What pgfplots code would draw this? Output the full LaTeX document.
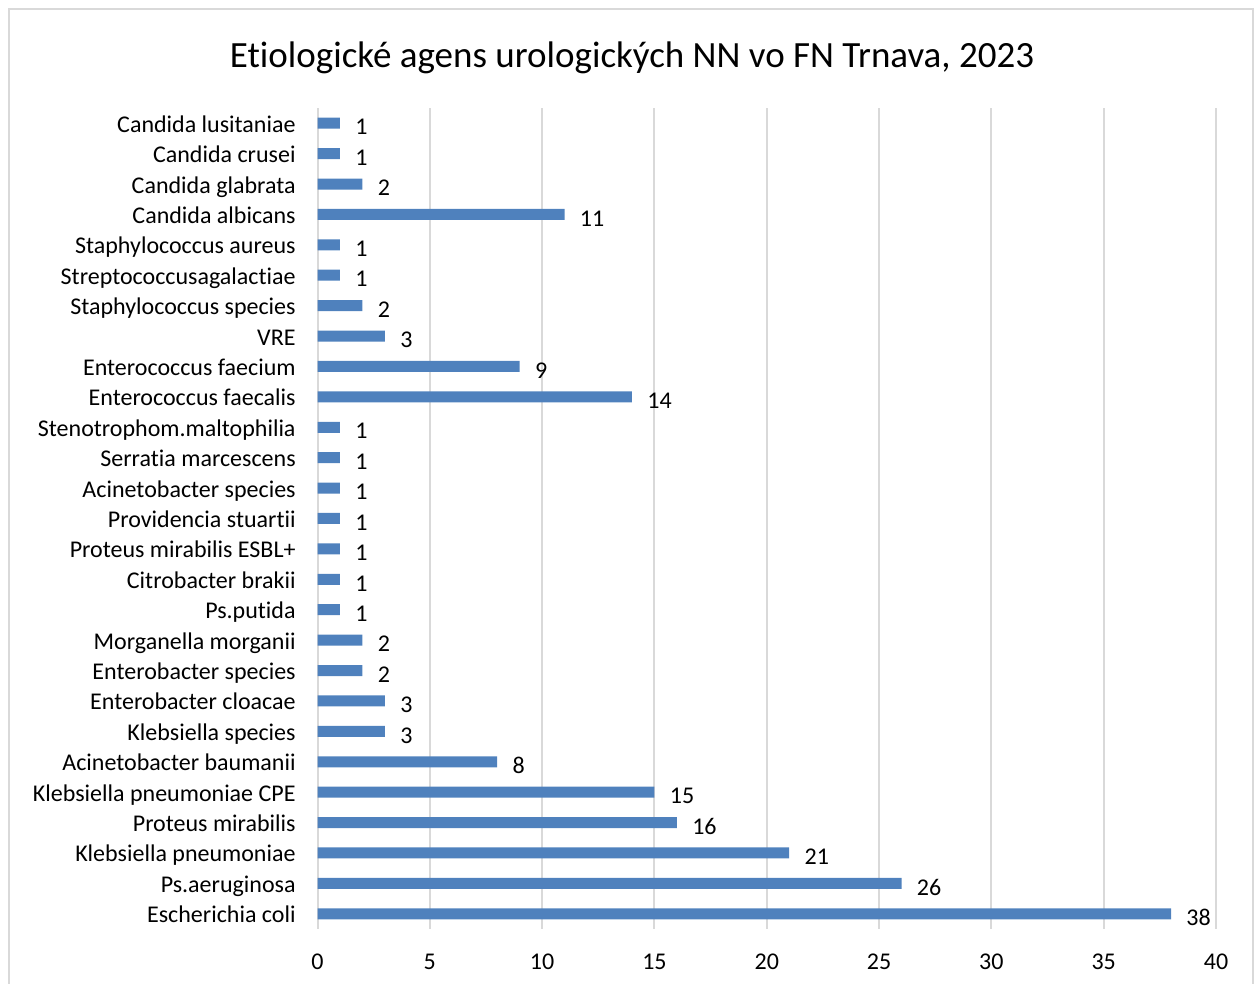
\documentclass[border=0pt]{standalone}
\usepackage{fontspec}
\setmainfont{Carlito}[Ligatures=NoCommon]
\usepackage{pgfplots}
\pgfplotsset{compat=1.18}

\definecolor{barblue}{RGB}{79,129,189}
\definecolor{gridgray}{RGB}{217,217,217}

\begin{document}
\begin{tikzpicture}
% page = 1257 x 984 px, 1px = 0.5pt, y measured from bottom
\useasboundingbox (0pt,0pt) rectangle (628.5pt,492pt);
\draw[gridgray, line width=1pt] (4.5pt,0pt) -- (4.5pt,487.5pt) -- (626.5pt,487.5pt) -- (626.5pt,0pt);
\node[font=\fontsize{18.5}{22}\selectfont] at (316pt,463pt) {Etiologické agens urologických NN vo FN Trnava, 2023};
\begin{axis}[
    at={(158.75pt,27.5pt)}, anchor=south west,
    scale only axis,
    width=449.25pt, height=410.5pt,
    xbar, bar width=5.5pt,
    xmin=0, xmax=40, xtick={0,5,...,40},
    ymin=-0.5, ymax=26.5, ytick={0,...,26},
    yticklabels={Escherichia coli, Ps.aeruginosa, Klebsiella pneumoniae,
        Proteus mirabilis, Klebsiella pneumoniae CPE, Acinetobacter baumanii,
        Klebsiella species, Enterobacter cloacae, Enterobacter species,
        Morganella morganii, Ps.putida, Citrobacter brakii,
        Proteus mirabilis ESBL+, Providencia stuartii, Acinetobacter species,
        Serratia marcescens, Stenotrophom.maltophilia, Enterococcus faecalis,
        Enterococcus faecium, VRE, Staphylococcus species,
        Streptococcusagalactiae, Staphylococcus aureus, Candida albicans,
        Candida glabrata, Candida crusei, Candida lusitaniae},
    axis line style={draw=none},
    major tick length=0pt,
    xmajorgrids, grid style={gridgray, line width=1pt},
    tick label style={font=\fontsize{12}{14}\selectfont},
    xticklabel style={anchor=center, inner sep=0pt, yshift=-16.5pt},
    yticklabel style={anchor=east, inner sep=0pt, xshift=-10.75pt,
        text height=8.5pt, text depth=2.5pt, yshift=-1.5pt},
    /pgf/number format/assume math mode=true,
    nodes near coords,
    every node near coord/.append style={font=\fontsize{12}{14}\selectfont,
        anchor=west, inner sep=0pt, xshift=7.5pt, yshift=-2pt, black},
    clip=false,
]
\addplot[fill=barblue, draw=none] coordinates {
    (38,0) (26,1) (21,2) (16,3) (15,4) (8,5) (3,6) (3,7) (2,8) (2,9)
    (1,10) (1,11) (1,12) (1,13) (1,14) (1,15) (1,16) (14,17) (9,18) (3,19)
    (2,20) (1,21) (1,22) (11,23) (2,24) (1,25) (1,26)
};
\end{axis}
\end{tikzpicture}
\end{document}
